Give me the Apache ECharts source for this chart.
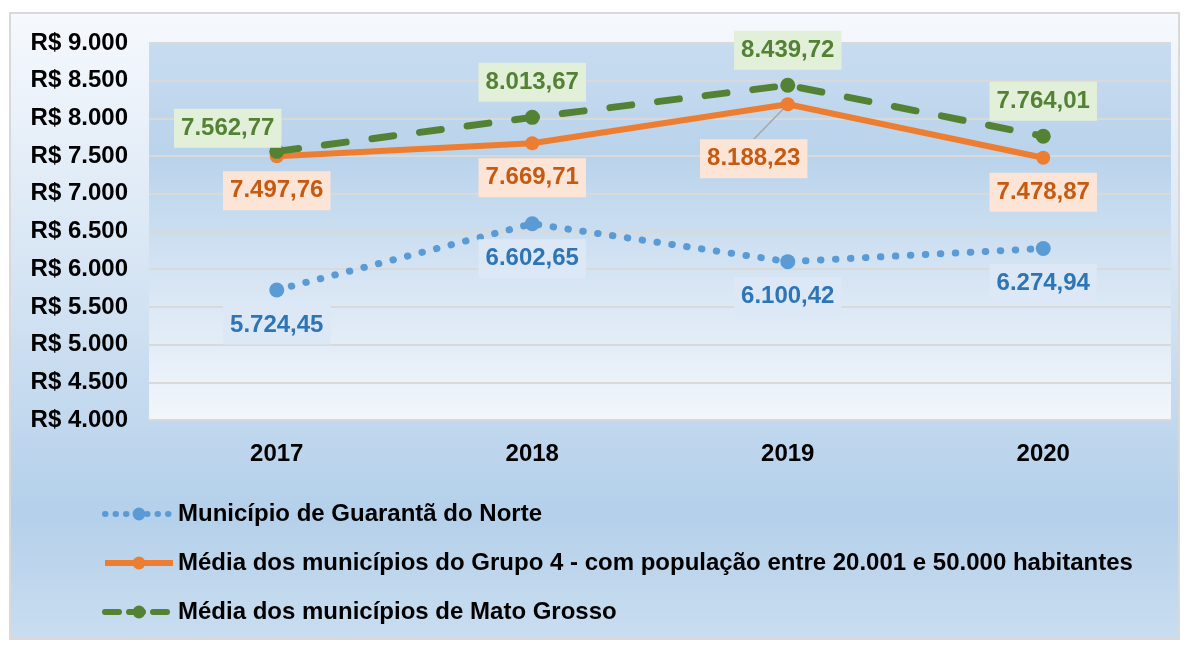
<!DOCTYPE html>
<html>
<head>
    <meta charset="utf-8">
    <title>ECharts</title>
    <script src="https://cdn.jsdelivr.net/npm/echarts@6/dist/echarts.min.js"></script>
    <style>
        body { margin: 0; background: #ffffff; }
        #main { position: absolute; left: 9px; top: 12px; width: 1171px; height: 628px; border: 2px solid #d9d9d9; box-sizing: border-box; }
    </style>
</head>
<body>
    <div id="main"></div>
    <script type="text/javascript">
        // dados
        var anos = ['2017', '2018', '2019', '2020'];
        var guaranta = [5724.45, 6602.65, 6100.42, 6274.94];
        var grupo4 = [7497.76, 7669.71, 8188.23, 7478.87];
        var mt = [7562.77, 8013.67, 8439.72, 7764.01];
        var nomes = [
            'Município de Guarantã do Norte',
            'Média dos municípios do Grupo 4 - com população entre 20.001 e 50.000 habitantes',
            'Média dos municípios de Mato Grosso'
        ];

        var fonte = 'Liberation Sans, Arial, sans-serif';

        function milhar(n) {
            return String(n).replace(/\B(?=(\d{3})+(?!\d))/g, '.');
        }
        function moeda(v) {
            var p = v.toFixed(2).split('.');
            return milhar(p[0]) + ',' + p[1];
        }

        var myChart = echarts.init(document.getElementById('main'));

        function rotulo(cor, fundo, pos) {
            return {
                show: true,
                position: pos,
                distance: 8,
                color: cor,
                backgroundColor: fundo,
                fontFamily: fonte,
                fontWeight: 'bold',
                fontSize: 24,
                lineHeight: 27,
                padding: [6, 7],
                formatter: function (p) { return moeda(p.value); }
            };
        }

        var estiloAzul = { width: 7, type: [0.5, 14.5], cap: 'round', color: '#5b9bd5' };
        var estiloLaranja = { width: 6, color: '#ed7d31' };
        var estiloVerde = { width: 7, type: [22, 26], cap: 'round', color: '#548235' };

        var dadosMt = mt.map(function (v, i) {
            if (i === 0) return { value: v, label: { offset: [-49, 12] } };
            return v;
        });
        var dadosG4 = grupo4.map(function (v, i) {
            if (i === 2) return { value: v, labelLine: { show: true, lineStyle: { color: '#a6a6a6', width: 1.5 } } };
            return v;
        });

        var option = {
            backgroundColor: {
                type: 'linear', x: 0, y: 0, x2: 0, y2: 1,
                colorStops: [
                    { offset: 0, color: '#f6f9fd' },
                    { offset: 0.45, color: '#d3e3f3' },
                    { offset: 0.8, color: '#b4d0ea' },
                    { offset: 1, color: '#c9ddf0' }
                ]
            },
            grid: {
                left: 138, top: 29, width: 1022, height: 377,
                show: true,
                borderWidth: 0,
                backgroundColor: {
                    type: 'linear', x: 0, y: 0, x2: 0, y2: 1,
                    colorStops: [
                        { offset: 0, color: '#c8dcf0' },
                        { offset: 0.3, color: '#b9d3eb' },
                        { offset: 0.65, color: '#d8e6f4' },
                        { offset: 1, color: '#f2f6fb' }
                    ]
                }
            },
            legend: {
                orient: 'vertical',
                left: 86,
                top: 483,
                itemWidth: 68,
                itemHeight: 16,
                itemGap: 25,
                data: [
                    { name: nomes[0], lineStyle: { width: 6, type: [0.5, 10], cap: 'round' } },
                    { name: nomes[1], lineStyle: { width: 6 } },
                    { name: nomes[2], lineStyle: { width: 6, type: [14, 10], cap: 'round' } }
                ],
                textStyle: { fontFamily: fonte, fontWeight: 'bold', fontSize: 24, color: '#000000' }
            },
            xAxis: {
                type: 'category',
                data: anos,
                axisLine: { lineStyle: { color: '#d9d9d9', width: 2 } },
                axisTick: { show: false },
                axisLabel: { margin: 22, color: '#000000', fontFamily: fonte, fontWeight: 'bold', fontSize: 24 }
            },
            yAxis: {
                type: 'value',
                min: 4000,
                max: 9000,
                interval: 500,
                axisLine: { show: false },
                axisTick: { show: false },
                splitLine: { lineStyle: { color: '#d9d9d9', width: 2 } },
                axisLabel: {
                    margin: 21, color: '#000000', fontFamily: fonte, fontWeight: 'bold', fontSize: 24,
                    formatter: function (v) { return 'R$ ' + milhar(v); }
                }
            },
            series: [
                {
                    name: nomes[0],
                    type: 'line',
                    data: guaranta,
                    symbol: 'circle',
                    symbolSize: 15,
                    color: '#5b9bd5',
                    lineStyle: estiloAzul,
                    label: rotulo('#2e75b6', '#dce8f5', 'bottom')
                },
                {
                    name: nomes[1],
                    type: 'line',
                    data: dadosG4,
                    symbol: 'circle',
                    symbolSize: 14,
                    color: '#ed7d31',
                    lineStyle: estiloLaranja,
                    label: rotulo('#c55a11', '#fce4d6', 'bottom'),
                    labelLayout: function (p) {
                        if (p.dataIndex === 2) return { dx: -34, dy: 20 };
                        return {};
                    }
                },
                {
                    name: nomes[2],
                    type: 'line',
                    data: dadosMt,
                    symbol: 'circle',
                    symbolSize: 15,
                    color: '#548235',
                    lineStyle: estiloVerde,
                    label: rotulo('#548235', '#e2efd9', 'top')
                }
            ]
        };

        myChart.setOption(option);
    </script>
</body>
</html>
